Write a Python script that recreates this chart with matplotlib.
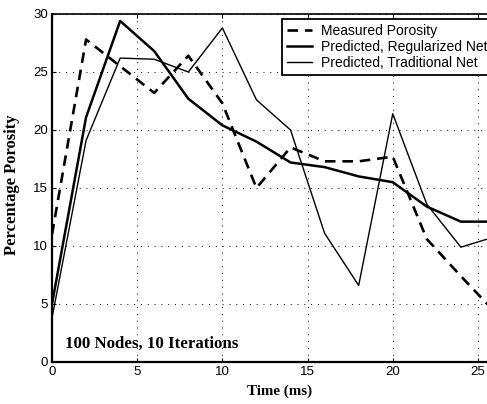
import matplotlib
matplotlib.use("Agg")
import matplotlib.pyplot as plt

# Porosity time series (time in ms, porosity in %)
time_ms = [0, 2, 4, 6, 8, 10, 12, 14, 16, 18, 20, 22, 24, 26]
measured = [11.0, 27.8, 25.5, 23.2, 26.4, 22.3, 15.0, 18.5, 17.3, 17.3, 17.7, 10.6, 7.4, 4.3]
regularized = [5.0, 21.1, 29.4, 26.8, 22.7, 20.4, 19.0, 17.2, 16.8, 16.0, 15.5, 13.4, 12.1, 12.1]
traditional = [3.8, 19.1, 26.2, 26.1, 25.0, 28.8, 22.6, 20.0, 11.1, 6.6, 21.4, 13.6, 9.9, 10.8]

series_labels = ["Measured Porosity", "Predicted, Regularized Net", "Predicted, Traditional Net"]
x_ticks = [0, 5, 10, 15, 20, 25]
y_ticks = [0, 5, 10, 15, 20, 25, 30]

W, H = 487, 404
fig = plt.figure(figsize=(W / 100, H / 100), dpi=100)
fig.patch.set_facecolor("white")

left_px, right_px, top_px, bottom_px = 52, 512, 14, 362
ax = fig.add_axes([left_px / W, 1 - bottom_px / H,
                   (right_px - left_px) / W, (bottom_px - top_px) / H])

ax.plot(time_ms, measured, color="black", lw=1.9, linestyle=(0, (4, 2.6)),
        label=series_labels[0])
ax.plot(time_ms, regularized, color="black", lw=1.8, label=series_labels[1])
ax.plot(time_ms, traditional, color="black", lw=1.0, label=series_labels[2])

ax.set_xlim(0, 27)
ax.set_ylim(0, 30)
ax.set_xticks(x_ticks)
ax.set_yticks(y_ticks)

tick_font = {"family": "Liberation Sans", "size": 9.5}
ax.set_xticklabels([str(t) for t in x_ticks], **tick_font)
ax.set_yticklabels([str(t) for t in y_ticks], **tick_font)
ax.tick_params(direction="in", length=3, width=0.8, top=True, right=True,
               pad=3, colors="black")

ax.grid(True, color="black", linestyle=(0, (1, 6)), linewidth=0.7)
for name, sp in ax.spines.items():
    sp.set_color("black")
    sp.set_linewidth(1.6 if name in ("left", "bottom") else 1.2)

ax.set_xlabel("Time (ms)", family="Liberation Serif", fontweight="bold",
              fontsize=10.8)
ax.xaxis.set_label_coords((280 - left_px) / (right_px - left_px), -0.065)
ax.set_ylabel("Percentage Porosity", family="Liberation Serif",
              fontweight="bold", fontsize=12)
ax.yaxis.set_label_coords((20 - left_px) / (right_px - left_px), 0.51)

fig.text(65 / W, 1 - 344 / H, "100 Nodes, 10 Iterations",
         family="Liberation Serif", fontweight="bold", fontsize=12.2,
         ha="left", va="center")

leg = ax.legend(loc="upper left", bbox_to_anchor=(282 / W, 1 - 19 / H),
                bbox_transform=fig.transFigure, borderaxespad=0,
                prop={"family": "Liberation Sans", "size": 10},
                handlelength=1.8, handletextpad=0.65, labelspacing=0.15,
                borderpad=0.35, fancybox=False, framealpha=1)
leg.get_frame().set_edgecolor("black")
leg.get_frame().set_linewidth(1.3)

fig.savefig("out.png", dpi=100, facecolor="white")
